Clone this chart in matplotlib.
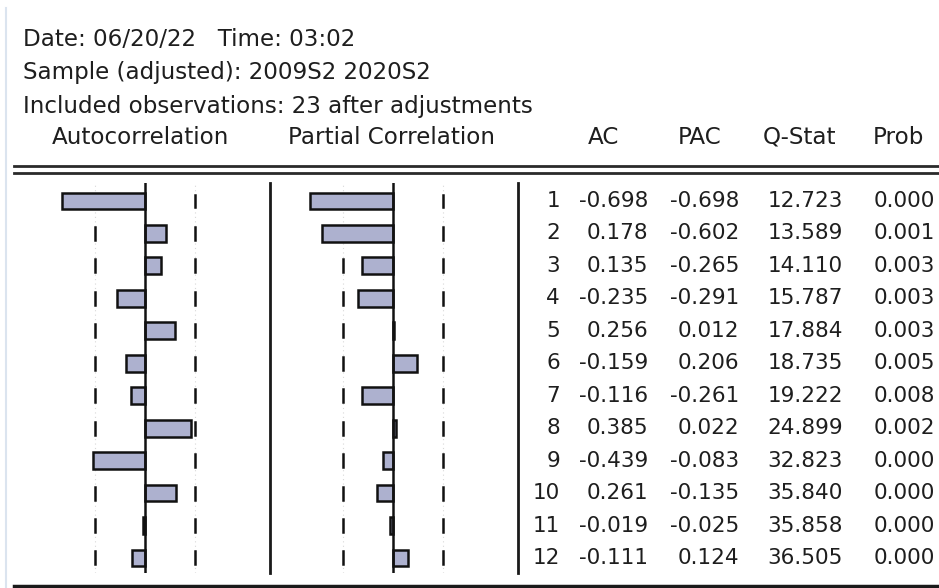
import numpy as np
import matplotlib
matplotlib.use("Agg")
import matplotlib.pyplot as plt

#%%
# correlogram values read off the EViews output
lags = np.arange(1, 13)
ac = [-0.698, 0.178, 0.135, -0.235, 0.256, -0.159, -0.116, 0.385, -0.439, 0.261, -0.019, -0.111]
pac = [-0.698, -0.602, -0.265, -0.291, 0.012, 0.206, -0.261, 0.022, -0.083, -0.135, -0.025, 0.124]
qstat = [12.723, 13.589, 14.110, 15.787, 17.884, 18.735, 19.222, 24.899, 32.823, 35.840, 35.858, 36.505]
prob = [0.000, 0.001, 0.003, 0.003, 0.003, 0.005, 0.008, 0.002, 0.000, 0.000, 0.000, 0.000]
nobs = 23
header_lines = ["Date: 06/20/22   Time: 03:02",
                "Sample (adjusted): 2009S2 2020S2",
                "Included observations: 23 after adjustments"]
col_names = ["AC", "PAC", "Q-Stat", "Prob"]

#%%
plt.rcParams['font.family'] = ['DejaVu Sans']
W, H = 939, 588
fs = 15.5      # table numbers
fs_head = 16.6  # header text
tc = '#1e1e1e'
bar_col = '#adb1cf'
bound = 2 / np.sqrt(nobs)

fig = plt.figure(figsize=(W / 100, H / 100), dpi=100)
bg = fig.add_axes([0, 0, 1, 1])
bg.set_xlim(0, W)
bg.set_ylim(H, 0)
bg.axis('off')

# frame lines
bg.plot([6, 6], [8, H], color='#dbe4ef', lw=1.5)
bg.plot([14, W], [166, 166], color='#2a2a2a', lw=2)
bg.plot([14, W], [172.5, 172.5], color='#2a2a2a', lw=2)
bg.plot([14, W], [586, 586], color='#1a1a1a', lw=2.5)

# header text
for i, s in enumerate(header_lines):
    bg.text(23, 40 + i * 33, s, fontsize=fs_head, color=tc, va='center', ha='left')
bg.text(141, 138, "Autocorrelation", fontsize=fs_head, color=tc, va='center', ha='center')
bg.text(392, 138, "Partial Correlation", fontsize=fs_head, color=tc, va='center', ha='center')
for name, xc in zip(col_names, [603, 700, 799, 898]):
    bg.text(xc, 137, name, fontsize=fs_head, color=tc, va='center', ha='center')

#%%
# bar panels
top_px, bot_px = 183, 573
row0, step = 201, 32.45
scale = 118.7  # px per unit correlation
y_top = 1 + (top_px - row0) / step
y_bot = 1 + (bot_px - row0) / step


def panel(x0, x1, zero, vals):
    ax = fig.add_axes([x0 / W, 1 - bot_px / H, (x1 - x0) / W, (bot_px - top_px) / H])
    ax.set_xlim((x0 - zero) / scale, (x1 - zero) / scale)
    ax.set_ylim(y_bot, y_top)
    ax.axis('off')
    ax.barh(lags, vals, height=0.52, color=bar_col, edgecolor='#111111', linewidth=1.8, zorder=2)
    ax.axvline(0, color='#111111', lw=1.8, zorder=3)
    for b in (-bound, bound):
        ax.axvline(b, color='#d8d8d8', lw=0.8, ls=(0, (1, 3)), zorder=1)
    for k, v in zip(lags, vals):
        for b in (-bound, bound):
            # dash hidden where the bar runs past the band
            if np.sign(v) == np.sign(b) and abs(v) > bound:
                continue
            ax.plot([b, b], [k - 0.2, k + 0.2], color='#111111', lw=1.8, zorder=3)
    return ax


panel(14, 270, 145, ac)
panel(270, 518, 393, pac)

# column dividers
bg.plot([270, 270], [top_px, bot_px], color='#1a1a1a', lw=2)
bg.plot([518, 518], [top_px, bot_px], color='#1a1a1a', lw=2)

#%%
# table of statistics
for k, a, p, q, pr in zip(lags, ac, pac, qstat, prob):
    y = row0 + (k - 1) * step
    bg.text(560, y, f"{k}", fontsize=fs, color=tc, va='center', ha='right')
    bg.text(648, y, f"{a:.3f}", fontsize=fs, color=tc, va='center', ha='right')
    bg.text(739, y, f"{p:.3f}", fontsize=fs, color=tc, va='center', ha='right')
    bg.text(843, y, f"{q:.3f}", fontsize=fs, color=tc, va='center', ha='right')
    bg.text(935, y, f"{pr:.3f}", fontsize=fs, color=tc, va='center', ha='right')

fig.savefig('out.png', dpi=100)
